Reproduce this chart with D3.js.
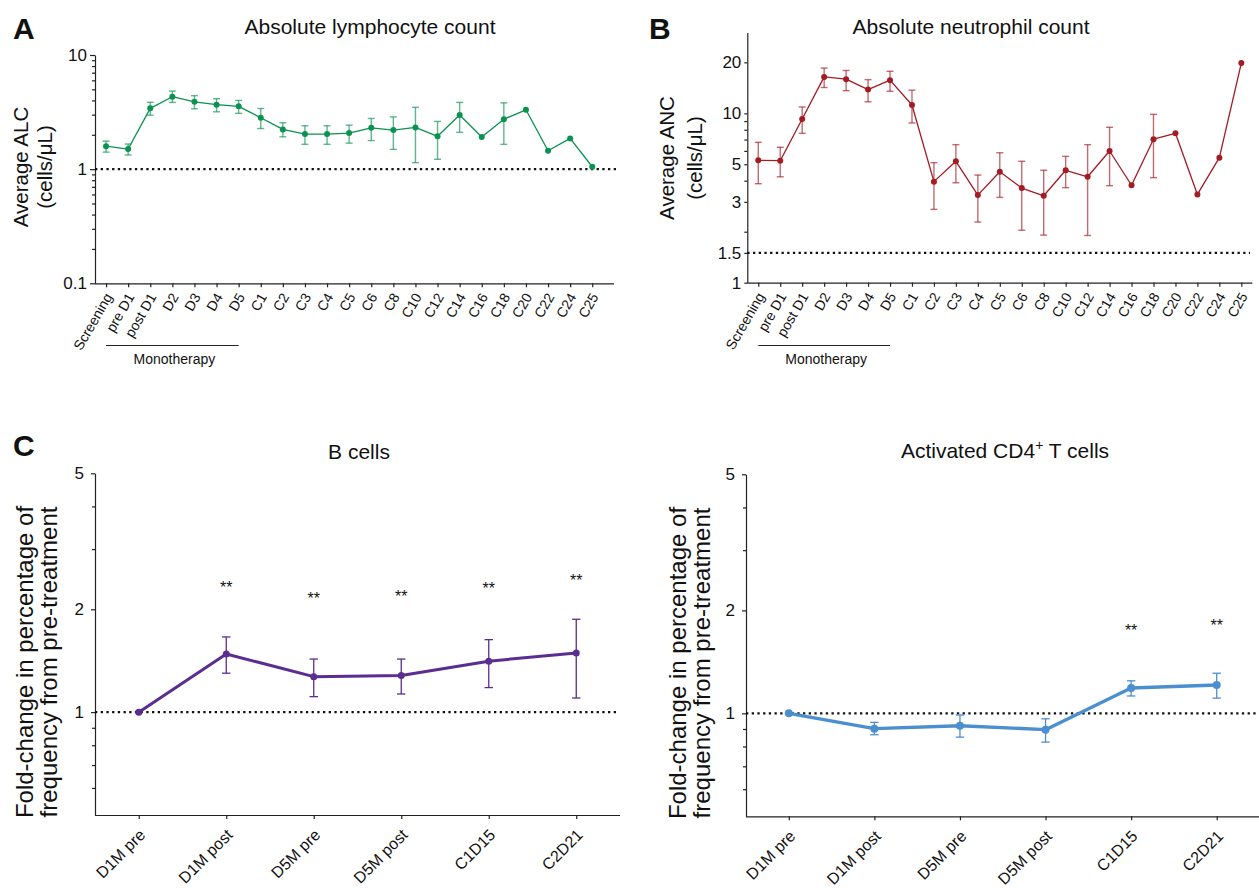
<!DOCTYPE html>
<html>
<head>
<meta charset="utf-8">
<script src="https://cdn.jsdelivr.net/npm/d3@7"></script>
<style>
body { margin: 0; background: #fff; }
svg text { font-family: Arial, "Liberation Sans", Helvetica, sans-serif; fill: #111; }
</style>
</head>
<body>
<svg id="fig" width="1259" height="888"></svg>
<script>
// time points for the blood counts (panels A, B)
const timepoints = ["Screening", "pre D1", "post D1", "D2", "D3", "D4", "D5", "C1", "C2", "C3", "C4", "C5",
  "C6", "C8", "C10", "C12", "C14", "C16", "C18", "C20", "C22", "C24", "C25"];
const alcMean = [1.59, 1.50, 3.41, 4.31, 3.89, 3.67, 3.55, 2.82, 2.23, 2.03, 2.03, 2.07, 2.30, 2.20, 2.32, 1.94, 2.98, 1.91, 2.74, 3.31, 1.45, 1.86, 1.05];
const alcHigh = [1.76, 1.66, 3.85, 4.83, 4.40, 4.14, 4.00, 3.40, 2.55, 2.40, 2.40, 2.43, 2.78, 2.87, 3.48, 2.62, 3.84, null, 3.81, null, null, null, null];
const alcLow = [1.41, 1.33, 2.97, 3.84, 3.38, 3.18, 3.08, 2.27, 1.92, 1.65, 1.65, 1.69, 1.78, 1.49, 1.14, 1.22, 2.10, null, 1.65, null, null, null, null];
const ancMean = [5.28, 5.25, 9.25, 16.4, 15.9, 13.8, 15.7, 11.2, 3.95, 5.21, 3.29, 4.52, 3.62, 3.26, 4.61, 4.22, 5.99, 3.76, 7.03, 7.62, 3.32, 5.47, 19.8];
const ancHigh = [6.74, 6.30, 10.9, 18.5, 17.9, 15.8, 17.7, 13.7, 5.11, 6.53, 4.32, 5.85, 5.21, 4.61, 5.57, 6.53, 8.27, null, 9.86, null, null, null, null];
const ancLow = [3.84, 4.22, 7.62, 14.2, 13.6, 11.7, 13.5, 8.77, 2.71, 3.89, 2.28, 3.19, 2.04, 1.91, 3.64, 1.90, 3.74, null, 4.17, null, null, null, null];

// visits for the flow data (panel C)
const visits = ["D1M pre", "D1M post", "D5M pre", "D5M post", "C1D15", "C2D21"];
const bMean = [1.0, 1.48, 1.27, 1.28, 1.41, 1.49];
const bHigh = [null, 1.66, 1.43, 1.43, 1.63, 1.87];
const bLow = [null, 1.30, 1.11, 1.13, 1.18, 1.10];
const bStars = [null, 2.38, 2.20, 2.23, 2.36, 2.49];
const cd4Mean = [1.0, 0.902, 0.920, 0.896, 1.186, 1.21];
const cd4High = [null, 0.941, 0.989, 0.964, 1.245, 1.31];
const cd4Low = [null, 0.866, 0.852, 0.824, 1.124, 1.108];
const cd4Stars = [null, null, null, null, 1.79, 1.85];

// tick values
const alcTicks = [0.1, 1, 10];
const alcMinor = [0.2, 0.3, 0.4, 0.5, 0.6, 0.7, 0.8, 0.9, 2, 3, 4, 5, 6, 7, 8, 9];
const ancTicks = [1, 1.5, 3, 5, 10, 20];
const ancMinor = [2, 4, 6, 7, 8, 9];
const foldTicks = [1, 2, 5];
const foldMinor = [0.6, 0.7, 0.8, 0.9, 3, 4];

const svg = d3.select("#fig");

function drawPanel(p) {
  const g = svg.append("g");
  const x = d3.scalePoint().domain(p.cats).range(p.xRange).padding(0.5);
  const y = d3.scaleLog().domain(p.yDomain).range(p.yRange);
  const base = p.yRange[0];
  const axisX = p.xRange[0];

  // y axis
  const ya = g.append("g").attr("transform", `translate(${axisX},0)`)
    .call(d3.axisLeft(y).tickValues(p.yTicks).tickFormat(d3.format("")).tickSize(p.tickY).tickPadding(p.padY).tickSizeOuter(0));
  ya.selectAll("text").style("font-size", "17px");
  g.append("g").attr("transform", `translate(${axisX},0)`)
    .call(d3.axisLeft(y).tickValues(p.yMinor).tickFormat("").tickSize(3))
    .call(s => s.select(".domain").remove());

  // x axis
  const xa = g.append("g").attr("transform", `translate(0,${base})`)
    .call(d3.axisBottom(x).tickSize(4).tickSizeOuter(0));
  xa.select(".domain").attr("d", `M${axisX},0.5H${p.axisEnd}`);
  xa.selectAll(".tick text")
    .attr("y", 0).attr("dy", "0.35em")
    .attr("text-anchor", "end")
    .style("font-size", p.xFont + "px")
    .attr("transform", `translate(${p.labelDx},${p.labelDy}) rotate(${p.angle})`);
  g.selectAll(".domain, .tick line").attr("stroke", "#222").attr("stroke-width", 1.2);

  // reference line
  g.append("line")
    .attr("x1", axisX).attr("x2", p.dotEnd)
    .attr("y1", y(p.ref)).attr("y2", y(p.ref))
    .attr("stroke", "#111").attr("stroke-width", 2.3).attr("stroke-dasharray", "2.3 3.4");

  const rows = p.cats.map((c, i) => ({ c, v: p.mean[i], hi: p.high[i], lo: p.low[i] }));

  // error bars
  const eb = g.append("g").attr("stroke", p.color).attr("stroke-opacity", p.errOpacity).attr("stroke-width", p.errWidth);
  rows.filter(d => d.hi != null).forEach(d => {
    const cx = x(d.c);
    eb.append("line").attr("x1", cx).attr("x2", cx).attr("y1", y(d.hi)).attr("y2", y(d.lo));
    [d.hi, d.lo].forEach(v => {
      eb.append("line").attr("x1", cx - p.cap).attr("x2", cx + p.cap).attr("y1", y(v)).attr("y2", y(v));
    });
  });

  g.append("path").datum(rows)
    .attr("fill", "none").attr("stroke", p.color).attr("stroke-width", p.lineWidth)
    .attr("stroke-linejoin", "round")
    .attr("d", d3.line().x(d => x(d.c)).y(d => y(d.v)));

  g.selectAll("circle.pt").data(rows).join("circle")
    .attr("cx", d => x(d.c)).attr("cy", d => y(d.v)).attr("r", p.r).attr("fill", p.color);

  if (p.stars) {
    g.selectAll("text.star").data(p.cats.map((c, i) => ({ c, s: p.stars[i] })).filter(d => d.s != null))
      .join("text")
      .attr("x", d => x(d.c)).attr("y", d => y(d.s)).attr("dy", "0.58em")
      .attr("text-anchor", "middle").style("font-size", "16px").text("**");
  }

  // title
  const t = g.append("text").attr("x", p.titleX).attr("y", p.titleY)
    .attr("text-anchor", "middle").style("font-size", "21px");
  if (p.titleSup) {
    t.append("tspan").text(p.title[0]);
    t.append("tspan").text("+").style("font-size", "14px").attr("dy", -8);
    t.append("tspan").text(p.title[1]).attr("dy", 8);
  } else {
    t.text(p.title);
  }

  // y label
  const yl = g.append("text").attr("text-anchor", "middle").style("font-size", p.ylFont + "px")
    .attr("transform", `translate(0,${p.ylCenter}) rotate(-90)`);
  p.ylabel.forEach((line, i) => {
    yl.append("tspan").attr("x", 0).attr("y", p.ylX[i]).text(line);
  });

  // panel letter
  if (p.letter) {
    g.append("text").attr("x", p.letterX).attr("y", p.letterY)
      .style("font-size", "30px").style("font-weight", "bold").text(p.letter);
  }

  // monotherapy bracket
  if (p.mono) {
    const x0 = x(p.cats[0]), x1 = x("D5");
    g.append("line").attr("x1", x0).attr("x2", x1).attr("y1", 345.5).attr("y2", 345.5)
      .attr("stroke", "#222").attr("stroke-width", 1);
    g.append("text").attr("x", (x0 + x1) / 2 + 2).attr("y", 364)
      .attr("text-anchor", "middle").style("font-size", "14px").text("Monotherapy");
  }
}

const countCommon = {
  cats: timepoints, xFont: 14, angle: -60, labelDx: 2, labelDy: 11,
  lineWidth: 1.3, errWidth: 1.4, errOpacity: 0.65, cap: 3.5, r: 3, ylFont: 20.5, mono: true
};

drawPanel(Object.assign({}, countCommon, {
  xRange: [95, 603.3], axisEnd: 614, dotEnd: 616,
  yDomain: [0.1, 10], yRange: [283.3, 55], yTicks: alcTicks, yMinor: alcMinor, tickY: 5, padY: 3,
  mean: alcMean, high: alcHigh, low: alcLow, color: "#0b9150", ref: 1,
  title: "Absolute lymphocyte count", titleX: 370, titleY: 34,
  ylabel: ["Average ALC", "(cells/\u03bcL)"], ylX: [28, 52], ylCenter: 167,
  letter: "A", letterX: 13, letterY: 39
}));

drawPanel(Object.assign({}, countCommon, {
  xRange: [747.3, 1252.3], axisEnd: 1252.3, dotEnd: 1250,
  yDomain: [1, 30], yRange: [282.7, 32.5], yTicks: ancTicks, yMinor: ancMinor, tickY: 3, padY: 3,
  mean: ancMean, high: ancHigh, low: ancLow, color: "#a31b23", ref: 1.5,
  title: "Absolute neutrophil count", titleX: 971, titleY: 34,
  ylabel: ["Average ANC", "(cells/\u03bcL)"], ylX: [674, 702], ylCenter: 158,
  letter: "B", letterX: 649, letterY: 39
}));

const foldCommon = {
  cats: visits, xFont: 16, angle: -45, labelDx: 3, labelDy: 17,
  lineWidth: 3, errWidth: 1.3, errOpacity: 1, cap: 4.2, ylFont: 24, ref: 1,
  yDomain: [0.5, 5], yTicks: foldTicks, yMinor: foldMinor, tickY: 4, padY: 7,
  ylabel: ["Fold-change in percentage of", "frequency from pre-treatment"]
};

drawPanel(Object.assign({}, foldCommon, {
  xRange: [95, 620], axisEnd: 620, dotEnd: 617, yRange: [815, 473.3],
  mean: bMean, high: bHigh, low: bLow, stars: bStars, color: "#5a2d91", r: 3.5,
  title: "B cells", titleX: 359, titleY: 459,
  ylX: [33, 57], ylCenter: 662,
  letter: "C", letterX: 13, letterY: 456
}));

drawPanel(Object.assign({}, foldCommon, {
  xRange: [746, 1259.5], axisEnd: 1259, dotEnd: 1259, yRange: [816.3, 474.3],
  mean: cd4Mean, high: cd4High, low: cd4Low, stars: cd4Stars, color: "#4b8fd0", r: 4, lineWidth: 3.4,
  title: ["Activated CD4", " T cells"], titleSup: true, titleX: 1005, titleY: 458,
  ylX: [686, 710], ylCenter: 663
}));
</script>
</body>
</html>
